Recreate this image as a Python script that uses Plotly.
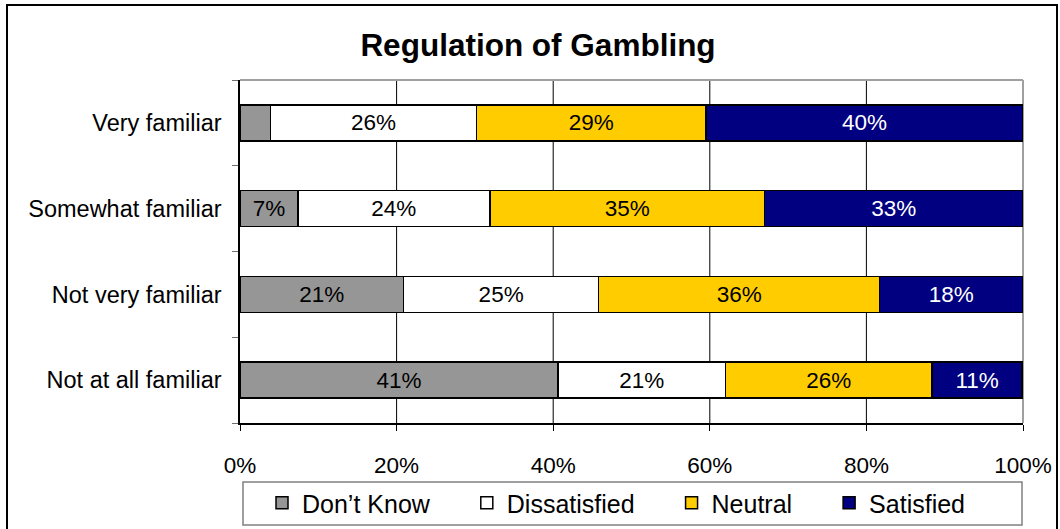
import plotly.graph_objects as go

categories = ["Very familiar", "Somewhat familiar", "Not very familiar", "Not at all familiar"]
dont_know = [3.9, 7.4, 20.9, 40.6]
dissatisfied = [26.3, 24.5, 24.9, 21.4]
neutral = [29.3, 35.1, 35.9, 26.4]
satisfied = [40.5, 33.0, 18.3, 11.5]

dont_know_labels = ["", "7%", "21%", "41%"]
dissatisfied_labels = ["26%", "24%", "25%", "21%"]
neutral_labels = ["29%", "35%", "36%", "26%"]
satisfied_labels = ["40%", "33%", "18%", "11%"]

x_ticks = [0, 20, 40, 60, 80, 100]
x_tick_labels = ["0%", "20%", "40%", "60%", "80%", "100%"]

FONT = "Liberation Sans, Arial, sans-serif"
PAD = "\u2003\u00a0"  # visual spacing after legend entries

series = [
    ("Don\u2019t Know", dont_know, dont_know_labels, "#969696", "black"),
    ("Dissatisfied", dissatisfied, dissatisfied_labels, "#FFFFFF", "black"),
    ("Neutral", neutral, neutral_labels, "#FFCC00", "black"),
    ("Satisfied", satisfied, satisfied_labels, "#000080", "white"),
]

fig = go.Figure()
for i, (name, vals, labels, color, tcolor) in enumerate(series):
    fig.add_trace(go.Bar(
        y=categories, x=vals, name=name + (PAD if i < len(series) - 1 else ""),
        orientation="h",
        marker=dict(color=color, line=dict(color="black", width=1.5)),
        text=labels, textposition="inside", insidetextanchor="middle",
        textangle=0, constraintext="none",
        textfont=dict(family=FONT, size=22.5, color=tcolor),
        hoverinfo="skip",
    ))

L, R, T, B = 240, 37, 80, 106
W, H = 1060, 529
pw, ph = W - L - R, H - T - B

def px_x(px):
    return (px - L) / pw

def px_y(py):
    return (H - B - py) / ph

shapes = []
for v in x_ticks[1:-1]:
    shapes.append(dict(type="line", xref="x", yref="paper", x0=v, x1=v, y0=0, y1=1,
                       line=dict(color="black", width=1), layer="below"))
shapes.append(dict(type="line", xref="paper", yref="paper", x0=0, x1=1, y0=1, y1=1,
                   line=dict(color="#A0A0A0", width=2), layer="below"))
shapes.append(dict(type="line", xref="paper", yref="paper", x0=1, x1=1, y0=0, y1=1,
                   line=dict(color="#A0A0A0", width=2), layer="below"))
shapes.append(dict(type="rect", xref="paper", yref="paper",
                   x0=px_x(243), x1=px_x(1022), y0=px_y(525), y1=px_y(482),
                   line=dict(color="#808080", width=1.5), fillcolor="rgba(0,0,0,0)"))
shapes.append(dict(type="rect", xref="paper", yref="paper",
                   x0=px_x(7), x1=px_x(1057), y0=px_y(540), y1=px_y(5),
                   line=dict(color="black", width=2), fillcolor="rgba(0,0,0,0)"))

fig.update_layout(
    width=W, height=H,
    margin=dict(l=L, r=R, t=T, b=B, autoexpand=False),
    barmode="stack", bargap=0.58,
    paper_bgcolor="white", plot_bgcolor="white",
    font=dict(family=FONT, size=22, color="black"),
    title=dict(text="<b>Regulation of Gambling</b>", x=538 / W, xanchor="center",
               y=1 - 45 / H, yanchor="middle", xref="container", yref="container",
               font=dict(family=FONT, size=31.5, color="black")),
    showlegend=True,
    legend=dict(orientation="h", x=262 / W, xanchor="left", xref="container",
                y=1 - 503 / H, yanchor="middle", yref="container",
                font=dict(family=FONT, size=25, color="black"),
                bgcolor="rgba(0,0,0,0)", borderwidth=0, traceorder="normal"),
    shapes=shapes,
    xaxis=dict(range=[0, 100], tickvals=x_ticks, ticktext=x_tick_labels,
               showgrid=False, zeroline=False, showline=True, linecolor="black", linewidth=1.5,
               ticks="outside", ticklen=6, tickcolor="black", ticklabelstandoff=15,
               tickfont=dict(family=FONT, size=22.5, color="black"), fixedrange=True),
    yaxis=dict(categoryorder="array", categoryarray=categories[::-1],
               showgrid=False, zeroline=False, showline=True, linecolor="black", linewidth=1.5,
               ticks="outside", tickson="boundaries", ticklen=6, tickcolor="#707070",
               ticklabelstandoff=12,
               tickfont=dict(family=FONT, size=23.5, color="black"), fixedrange=True),
)

fig.write_html("out.html", config={"displayModeBar": False},
               post_script="document.body.style.margin='0';")
